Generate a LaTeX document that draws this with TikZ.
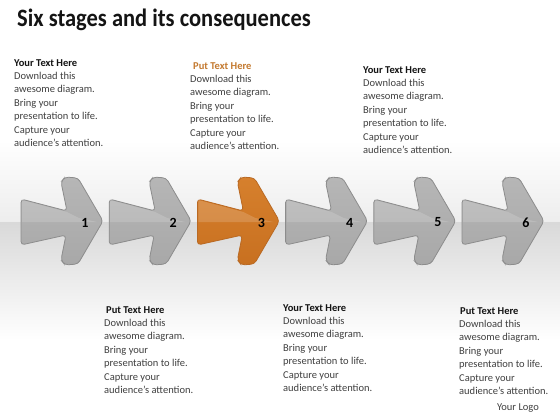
\documentclass[tikz,border=0pt]{standalone}
\usepackage{fontspec}
\setmainfont{Carlito}
\definecolor{bodygray}{RGB}{64,64,64}
\definecolor{headblack}{RGB}{20,20,20}
\definecolor{headorange}{RGB}{196,122,48}
\definecolor{arrgrayA}{RGB}{182,182,182}
\definecolor{arrgrayB}{RGB}{214,214,214}
\definecolor{arrgrayC}{RGB}{168,168,168}
\definecolor{arrgrayD}{RGB}{140,140,140}
\definecolor{arrorA}{RGB}{214,128,45}
\definecolor{arrorB}{RGB}{238,163,84}
\definecolor{arrorC}{RGB}{200,112,32}
\definecolor{arrorD}{RGB}{185,105,35}
\tikzset{
  grayarrow/.style={top color=arrgrayA, middle color=arrgrayB, bottom color=arrgrayC, draw=arrgrayD, line width=0.8pt},
  orangearrow/.style={top color=arrorA, middle color=arrorB, bottom color=arrorC, draw=arrorD, line width=0.8pt},
  numlabel/.style={font=\bfseries\fontsize{14}{14}\selectfont, text=black, inner sep=0},
  blk/.style={anchor=north west, align=left, inner sep=0, font=\fontsize{10.5}{13.4}\selectfont, text=bodygray},
}
\newcommand{\hd}[1]{{\color{headblack}\bfseries #1}}
\newcommand{\hdo}[1]{{\color{headorange}\bfseries #1}}
\newcommand{\bodytext}{Download this\\awesome diagram.\\Bring your\\presentation to life.\\Capture your\\audience’s attention.}
\begin{document}
\begin{tikzpicture}[x=1pt,y=-1pt]
\useasboundingbox (0,0) rectangle (560,420);
\fill[white] (0,0) rectangle (560,420);
\shade[top color=white, bottom color=black!7] (0,140) rectangle (560,222);
\shade[top color=black!15, bottom color=white] (0,222) rectangle (560,340);
% title
\node[anchor=base west, inner sep=0, font=\bfseries\fontsize{25}{25}\selectfont, text=headblack] (title) at (17,27) {\scalebox{0.9}[1]{Six stages and its consequences}};
% arrows
\foreach \i/\n/\sty in {0/1/grayarrow, 1/2/grayarrow, 2/3/orangearrow, 3/4/grayarrow, 4/5/grayarrow, 5/6/grayarrow}{
  \begin{scope}[shift={(21+88.2*\i,199)}]
    \path[\sty, rounded corners=3.5pt] (0,0) -- (46,12) -- (40,-17) -- (44,-22) -- (57,-21) -- (82,22) -- (57,65) -- (44,66) -- (40,61) -- (45,36) -- (0,46) -- cycle;
    \fill[white, opacity=0.16] (1,1) -- (46,13) -- (58,19) -- (76,23) -- (1,23) -- cycle;
    \node[numlabel] (num\n) at (64,23.5) {\n};
  \end{scope}
}
% text blocks
\node[blk] (t1) at (14,59) {\hd{Your Text Here}\\\bodytext};
\node[blk] (t2) at (190,62) {\hspace{3pt}\hdo{Put Text Here}\\\bodytext};
\node[blk] (t3) at (363,66) {\hd{Your Text Here}\\\bodytext};
\node[blk] (t4) at (104,306) {\hspace{2pt}\hd{Put Text Here}\\\bodytext};
\node[blk] (t5) at (283,304) {\hd{Your Text Here}\\\bodytext};
\node[blk] (t6) at (459,307) {\hspace{1pt}\hd{Put Text Here}\\\bodytext};
\node[font=\fontsize{10.5}{12}\selectfont, text=bodygray, inner sep=0] (logo) at (518,408) {Your Logo};
\end{tikzpicture}
\end{document}
